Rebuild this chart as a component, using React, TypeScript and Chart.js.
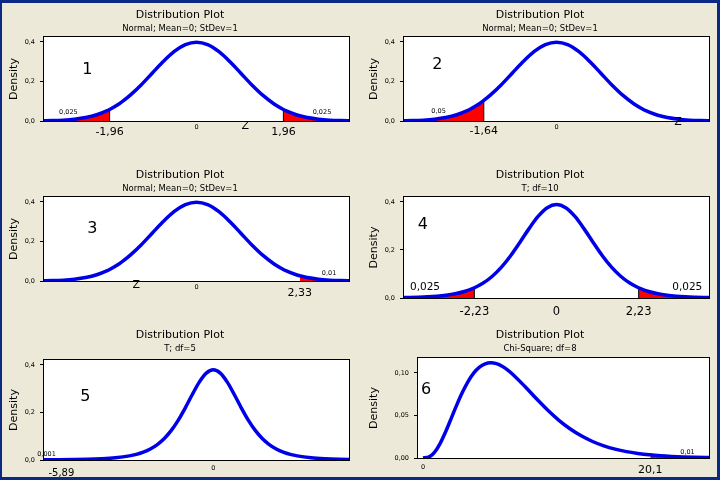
import React, { useEffect, useRef } from "react";
import { Chart, registerables } from "chart.js";

Chart.register(...registerables);

const FONT = '"DejaVu Sans", Verdana, sans-serif';
const BLUE = "#0000e8";
const RED = "#ff0000";

// ---- Curve values ----
// Normal(0,1) density (panels 1-3)
const normalX = [-3.5, -3.25, -3, -2.75, -2.5, -2.25, -2, -1.96, -1.75, -1.64, -1.5, -1.25, -1, -0.75, -0.5, -0.25, 0, 0.25, 0.5, 0.75, 1, 1.25, 1.5, 1.75, 1.96, 2, 2.25, 2.33, 2.5, 2.75, 3, 3.25, 3.5];
const normalY = [0.0009, 0.002, 0.0044, 0.0091, 0.0175, 0.0317, 0.054, 0.0584, 0.0863, 0.104, 0.1295, 0.1826, 0.242, 0.3011, 0.3521, 0.3867, 0.3989, 0.3867, 0.3521, 0.3011, 0.242, 0.1826, 0.1295, 0.0863, 0.0584, 0.054, 0.0317, 0.0264, 0.0175, 0.0091, 0.0044, 0.002, 0.0009];

// T, df=10 (panel 4)
const t10X = [-4.25, -4, -3.75, -3.5, -3.25, -3, -2.75, -2.5, -2.25, -2.23, -2, -1.75, -1.5, -1.25, -1, -0.75, -0.5, -0.25, 0, 0.25, 0.5, 0.75, 1, 1.25, 1.5, 1.75, 2, 2.23, 2.25, 2.5, 2.75, 3, 3.25, 3.5, 3.75, 4, 4.25];
const t10Y = [0.0013, 0.002, 0.0031, 0.0048, 0.0074, 0.0114, 0.0176, 0.0269, 0.0409, 0.0423, 0.0611, 0.0895, 0.1274, 0.1751, 0.2304, 0.288, 0.3397, 0.376, 0.3891, 0.376, 0.3397, 0.288, 0.2304, 0.1751, 0.1274, 0.0895, 0.0611, 0.0423, 0.0409, 0.0269, 0.0176, 0.0114, 0.0074, 0.0048, 0.0031, 0.002, 0.0013];

// T, df=5 (panel 5)
const t5X = [-6.5, -6, -5.89, -5.5, -5, -4.5, -4, -3.5, -3, -2.75, -2.5, -2.25, -2, -1.75, -1.5, -1.25, -1, -0.75, -0.5, -0.25, 0, 0.25, 0.5, 0.75, 1, 1.25, 1.5, 1.75, 2, 2.25, 2.5, 2.75, 3, 3.5, 4, 4.5, 5];
const t5Y = [0.0004, 0.0007, 0.0008, 0.0011, 0.0018, 0.0029, 0.0051, 0.0092, 0.0173, 0.0239, 0.0333, 0.0466, 0.0651, 0.0905, 0.1245, 0.1679, 0.2197, 0.2757, 0.3279, 0.3657, 0.3796, 0.3657, 0.3279, 0.2757, 0.2197, 0.1679, 0.1245, 0.0905, 0.0651, 0.0466, 0.0333, 0.0239, 0.0173, 0.0092, 0.0051, 0.0029, 0.0018];

// Chi-Square, df=8 (panel 6)
const chi8X = [0, 0.5, 1, 1.5, 2, 2.5, 3, 3.5, 4, 4.5, 5, 5.5, 6, 6.5, 7, 7.5, 8, 9, 10, 11, 12, 13, 14, 15, 16, 17, 18, 19, 20, 20.1, 21, 22, 23, 24, 25, 26];
const chi8Y = [0, 0.001, 0.0063, 0.0166, 0.0307, 0.0466, 0.0628, 0.0776, 0.0902, 0.1001, 0.1069, 0.1108, 0.112, 0.1109, 0.1079, 0.1034, 0.0977, 0.0844, 0.0702, 0.0567, 0.0446, 0.0344, 0.0261, 0.0194, 0.0143, 0.0104, 0.0075, 0.0054, 0.0038, 0.0037, 0.0027, 0.0019, 0.0013, 0.0009, 0.0006, 0.0004];

// ---- Ticks and labels ----
const densityTicks = [0, 0.2, 0.4];
const chiDensityTicks = [0, 0.05, 0.1];
const zeroTick = [0];
const t10Ticks = [-2.23, 0, 2.23];

const mainTitle = "Distribution Plot";
const subtitles = [
  "Normal; Mean=0; StDev=1",
  "Normal; Mean=0; StDev=1",
  "Normal; Mean=0; StDev=1",
  "T; df=10",
  "T; df=5",
  "Chi-Square; df=8",
];

type Ann = { x: number; y: number; text: string; size: number };
type Spec = {
  px: number;
  py: number;
  subtitle: string;
  xs: number[];
  ys: number[];
  xMin: number;
  xMax: number;
  yMax: number;
  yTicks: number[];
  yDec: number;
  xTicks: number[];
  xTickSize: number;
  xTickPad: number;
  area: { left: number; right: number; top: number; bottom: number };
  tails: [number, number][];
  cuts: number[];
  anns: Ann[];
};

const panels: Spec[] = [
  {
    px: 0, py: 0, subtitle: subtitles[0], xs: normalX, ys: normalY,
    xMin: -3.44, xMax: 3.44, yMax: 0.4253, yTicks: densityTicks, yDec: 1,
    xTicks: zeroTick, xTickSize: 6.5, xTickPad: 2,
    area: { left: 44, right: 349, top: 37, bottom: 121 },
    tails: [[-Infinity, -1.96], [1.96, Infinity]], cuts: [-1.96, 1.96],
    anns: [
      { x: -2.46, y: 0.258, text: "1", size: 16 },
      { x: -2.89, y: 0.046, text: "0,025", size: 6.5 },
      { x: 2.83, y: 0.046, text: "0,025", size: 6.5 },
      { x: -1.96, y: -0.056, text: "-1,96", size: 11 },
      { x: 1.96, y: -0.056, text: "1,96", size: 11 },
      { x: 1.1, y: -0.025, text: "Z", size: 11 },
    ],
  },
  {
    px: 360, py: 0, subtitle: subtitles[1], xs: normalX, ys: normalY,
    xMin: -3.44, xMax: 3.44, yMax: 0.4253, yTicks: densityTicks, yDec: 1,
    xTicks: zeroTick, xTickSize: 6.5, xTickPad: 2,
    area: { left: 44, right: 349, top: 37, bottom: 121 },
    tails: [[-Infinity, -1.64]], cuts: [-1.64],
    anns: [
      { x: -2.69, y: 0.284, text: "2", size: 16 },
      { x: -2.66, y: 0.051, text: "0,05", size: 6.5 },
      { x: -1.64, y: -0.051, text: "-1,64", size: 11 },
      { x: 2.74, y: -0.005, text: "Z", size: 11 },
    ],
  },
  {
    px: 0, py: 160, subtitle: subtitles[2], xs: normalX, ys: normalY,
    xMin: -3.44, xMax: 3.44, yMax: 0.4253, yTicks: densityTicks, yDec: 1,
    xTicks: zeroTick, xTickSize: 6.5, xTickPad: 2,
    area: { left: 44, right: 349, top: 37, bottom: 121 },
    tails: [[2.33, Infinity]], cuts: [],
    anns: [
      { x: -2.35, y: 0.263, text: "3", size: 16 },
      { x: -1.36, y: -0.02, text: "Z", size: 11 },
      { x: 2.33, y: -0.061, text: "2,33", size: 11 },
      { x: 2.99, y: 0.041, text: "0,01", size: 6.5 },
    ],
  },
  {
    px: 360, py: 160, subtitle: subtitles[3], xs: t10X, ys: t10Y,
    xMin: -4.14, xMax: 4.14, yMax: 0.4208, yTicks: densityTicks, yDec: 1,
    xTicks: t10Ticks, xTickSize: 11.5, xTickPad: 7,
    area: { left: 44, right: 349, top: 37, bottom: 138 },
    tails: [[-Infinity, -2.23], [2.23, Infinity]], cuts: [-2.23, 2.23],
    anns: [
      { x: -3.63, y: 0.304, text: "4", size: 16 },
      { x: -3.57, y: 0.046, text: "0,025", size: 10.5 },
      { x: 3.55, y: 0.046, text: "0,025", size: 10.5 },
    ],
  },
  {
    px: 0, py: 320, subtitle: subtitles[4], xs: t5X, ys: t5Y,
    xMin: -6.05, xMax: 4.85, yMax: 0.421, yTicks: densityTicks, yDec: 1,
    xTicks: zeroTick, xTickSize: 6.5, xTickPad: 4,
    area: { left: 44, right: 349, top: 40, bottom: 140 },
    tails: [[-Infinity, -5.89]], cuts: [],
    anns: [
      { x: -4.57, y: 0.265, text: "5", size: 16 },
      { x: -5.96, y: 0.025, text: "0,001", size: 6.5 },
      { x: -5.43, y: -0.055, text: "-5,89", size: 10 },
    ],
  },
  {
    px: 360, py: 320, subtitle: subtitles[5], xs: chi8X, ys: chi8Y,
    xMin: -0.44, xMax: 25.3, yMax: 0.1176, yTicks: chiDensityTicks, yDec: 2,
    xTicks: zeroTick, xTickSize: 6.5, xTickPad: 5,
    area: { left: 58, right: 349, top: 38, bottom: 138 },
    tails: [[20.1, Infinity]], cuts: [],
    anns: [
      { x: 0.27, y: 0.08, text: "6", size: 16 },
      { x: 23.4, y: 0.0071, text: "0,01", size: 6.5 },
      { x: 20.1, y: -0.0141, text: "20,1", size: 11 },
    ],
  },
];

const W = 360;
const H = 160;

function makeConfig(p: Spec): any {
  const pts = p.xs.map((x, i) => ({ x, y: p.ys[i] }));
  const datasets: any[] = [
    {
      data: pts,
      borderColor: BLUE,
      borderWidth: 3.5,
      pointRadius: 0,
      fill: false,
      cubicInterpolationMode: "monotone",
      order: 0,
    },
  ];
  p.cuts.forEach((c) => {
    const i = p.xs.indexOf(c);
    datasets.push({
      data: [
        { x: c, y: 0 },
        { x: c, y: p.ys[i] },
      ],
      borderColor: "#000",
      borderWidth: 1,
      pointRadius: 0,
      fill: false,
      order: 1,
    });
  });
  p.tails.forEach(([a, b]) => {
    datasets.push({
      data: pts.filter((q) => q.x >= a && q.x <= b),
      borderColor: "rgba(0,0,0,0)",
      borderWidth: 0,
      backgroundColor: RED,
      fill: "origin",
      pointRadius: 0,
      cubicInterpolationMode: "monotone",
      order: 2,
    });
  });

  const titleBlock = 9 + 11 * 1.2;
  const subBlock = 1 + 8.5 * 1.2;
  const subBottom = p.area.top - titleBlock - subBlock;

  const framePlugin = {
    id: "frame",
    beforeDatasetsDraw(chart: any) {
      const { ctx, chartArea: a } = chart;
      ctx.save();
      ctx.fillStyle = "#ffffff";
      ctx.fillRect(a.left, a.top, a.right - a.left, a.bottom - a.top);
      ctx.strokeStyle = "#000";
      ctx.lineWidth = 1;
      ctx.strokeRect(a.left - 0.5, a.top - 0.5, a.right - a.left + 1, a.bottom - a.top + 1);
      ctx.restore();
    },
    afterDraw(chart: any) {
      const { ctx } = chart;
      const xs = chart.scales.x;
      const ys = chart.scales.y;
      ctx.save();
      ctx.fillStyle = "#000";
      ctx.textAlign = "center";
      ctx.textBaseline = "middle";
      p.anns.forEach((an) => {
        ctx.font = `${an.size}px ${FONT}`;
        ctx.fillText(an.text, xs.getPixelForValue(an.x), ys.getPixelForValue(an.y));
      });
      ctx.restore();
    },
  };

  return {
    type: "line",
    data: { datasets },
    plugins: [framePlugin],
    options: {
      animation: false,
      responsive: false,
      events: [],
      layout: { padding: { left: 0, right: 0, top: 0, bottom: 0 } },
      plugins: {
        legend: { display: false },
        tooltip: { enabled: false },
        title: {
          display: true,
          text: mainTitle,
          color: "#000",
          font: { family: FONT, size: 11, weight: "normal" },
          padding: { top: 9, bottom: 0 },
        },
        subtitle: {
          display: true,
          text: p.subtitle,
          color: "#000",
          font: { family: FONT, size: 8.5, weight: "normal" },
          padding: { top: 1, bottom: subBottom },
        },
      },
      scales: {
        x: {
          type: "linear",
          min: p.xMin,
          max: p.xMax,
          grid: { display: false, drawTicks: false },
          border: { display: false },
          afterBuildTicks: (s: any) => {
            s.ticks = p.xTicks.map((v) => ({ value: v }));
          },
          afterFit: (s: any) => {
            s.height = H - p.area.bottom;
          },
          ticks: {
            autoSkip: false,
            maxRotation: 0,
            color: "#000",
            padding: p.xTickPad,
            font: { family: FONT, size: p.xTickSize },
            callback: (v: any) => String(v).replace(".", ","),
          },
        },
        y: {
          type: "linear",
          min: 0,
          max: p.yMax,
          grid: { display: true, drawOnChartArea: false, drawTicks: true, tickLength: 4, color: "#000" },
          border: { display: false },
          afterBuildTicks: (s: any) => {
            s.ticks = p.yTicks.map((v) => ({ value: v }));
          },
          afterFit: (s: any) => {
            s.width = p.area.left;
          },
          ticks: {
            color: "#000",
            padding: 5,
            font: { family: FONT, size: 6.5 },
            callback: (v: any) => Number(v).toFixed(p.yDec).replace(".", ","),
          },
          title: {
            display: true,
            text: "Density",
            color: "#000",
            font: { family: FONT, size: 11 },
            padding: { top: 8, bottom: 0 },
          },
        },
        yr: {
          type: "linear",
          position: "right",
          display: true,
          grid: { display: false, drawTicks: false },
          border: { display: false },
          ticks: { display: false },
          afterFit: (s: any) => {
            s.width = W - p.area.right;
          },
        },
      },
    },
  };
}

function Panel({ spec }: { spec: Spec }) {
  const ref = useRef<HTMLCanvasElement>(null);
  useEffect(() => {
    const chart = new Chart(ref.current as HTMLCanvasElement, makeConfig(spec));
    return () => chart.destroy();
  }, [spec]);
  return (
    <canvas
      ref={ref}
      width={W}
      height={H}
      style={{ position: "absolute", left: spec.px, top: spec.py, width: W, height: H }}
    />
  );
}

export default function App() {
  return (
    <div
      style={{
        position: "fixed",
        left: 0,
        top: 0,
        width: 720,
        height: 480,
        background: "#ece9d8",
        overflow: "hidden",
      }}
    >
      {panels.map((s, i) => (
        <Panel key={i} spec={s} />
      ))}
      <div
        style={{
          position: "absolute",
          left: 0,
          top: 0,
          width: 720,
          height: 480,
          boxSizing: "border-box",
          borderStyle: "solid",
          borderColor: "#0b2a84",
          borderWidth: "3px 3px 3px 2px",
          pointerEvents: "none",
        }}
      />
    </div>
  );
}
